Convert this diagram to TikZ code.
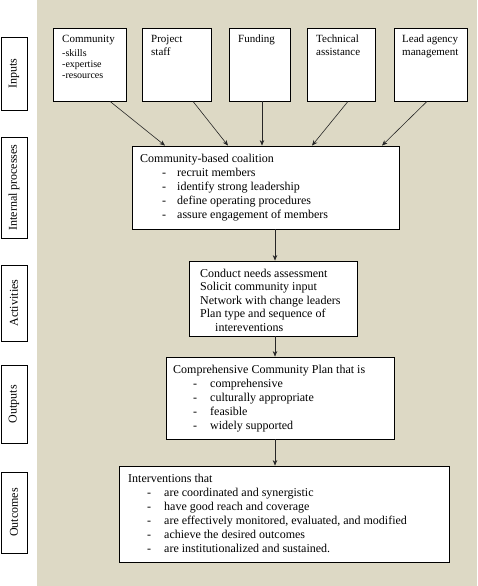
\documentclass[tikz,border=0pt]{standalone}
\usepackage{fontspec}
\setmainfont{Liberation Serif}
\usetikzlibrary{arrows.meta,calc}
\definecolor{bg}{RGB}{221,217,197}
\newcommand\dl[2]{\makebox[#2pt][l]{\hspace*{#1pt}-}}
\begin{document}
\begin{tikzpicture}[x=1pt,y=-1pt,
  box/.style={draw=black, fill=white, line width=0.8pt, inner sep=0pt},
  lab/.style={draw=black, fill=white, line width=0.8pt, rotate=90, inner sep=0pt, minimum height=26pt, font=\fontsize{12}{14}\selectfont},
  txt/.style={anchor=north west, inner sep=0pt, align=left, font=\fontsize{12}{14}\selectfont},
  itxt/.style={anchor=north west, inner sep=0pt, align=left, font=\fontsize{11}{13}\selectfont},
  arr/.style={-{Stealth[length=5.5pt,width=4.5pt]}, line width=0.6pt, draw=black!85}
]
\useasboundingbox (0,0) rectangle (477,586);
\fill[bg] (37,0) rectangle (477,586);

% side labels
\node[lab, minimum width=73pt] (lin) at (14,73.5) {Inputs};
\node[lab, minimum width=101pt] (lip) at (14,187.5) {Internal processes};
\node[lab, minimum width=76pt] (lac) at (14,303) {Activities};
\node[lab, minimum width=78pt] (lou) at (14,404) {Outputs};
\node[lab, minimum width=81pt] (loc) at (14,512.5) {Outcomes};

% input boxes
\node[box, minimum width=73pt, minimum height=73pt] (cm) at (89.5,64.5) {};
\node[box, minimum width=69pt, minimum height=73pt] (ps) at (176.5,64.5) {};
\node[box, minimum width=61pt, minimum height=73pt] (fu) at (259.5,64.5) {};
\node[box, minimum width=68pt, minimum height=73pt] (ta) at (341,64.5) {};
\node[box, minimum width=73pt, minimum height=73pt] (la) at (430.5,64.5) {};

\node[itxt] (cmt) at (62,35) {Community\\[1pt]{\fontsize{10}{11}\selectfont -skills}\\[-2pt]{\fontsize{10}{11}\selectfont -expertise}\\[-2pt]{\fontsize{10}{11}\selectfont -resources}};
\node[itxt] (pst) at (151,35) {Project\\staff};
\node[itxt] (fut) at (238,35) {Funding};
\node[itxt] (tat) at (316,35) {Technical\\assistance};
\node[itxt] (lat) at (402,35) {Lead agency\\management};

% main boxes
\node[box, minimum width=267pt, minimum height=83pt] (co) at (265.5,187.5) {};
\node[box, minimum width=168pt, minimum height=75pt] (ac) at (273,298.5) {};
\node[box, minimum width=228pt, minimum height=82pt] (op) at (280,398) {};
\node[box, minimum width=330pt, minimum height=96pt] (oc) at (284,514) {};

\node[txt] (cot) at (140,154) {Community-based coalition\\
\dl{22}{37}recruit members\\
\dl{22}{37}identify strong leadership\\
\dl{22}{37}define operating procedures\\
\dl{22}{37}assure engagement of members};

\node[txt, font=\fontsize{12}{13.5}\selectfont] (act) at (200,268.5) {Conduct needs assessment\\
Solicit community input\\
Network with change leaders\\
Plan type and sequence of\\
\hspace*{15pt}intereventions};

\node[txt] (opt) at (173,364.5) {Comprehensive Community Plan that is\\
\dl{20}{37}comprehensive\\
\dl{20}{37}culturally appropriate\\
\dl{20}{37}feasible\\
\dl{20}{37}widely supported};

\node[txt] (oct) at (128,473.5) {Interventions that\\
\dl{19}{36}are coordinated and synergistic\\
\dl{19}{36}have good reach and coverage\\
\dl{19}{36}are effectively monitored, evaluated, and modified\\
\dl{19}{36}achieve the desired outcomes\\
\dl{19}{36}are institutionalized and sustained.};

% connectors
\draw[arr] ([xshift=20.5pt]cm.south) -- ([xshift=-100.5pt]co.north);
\draw[arr] ([xshift=16.5pt]ps.south) -- ([xshift=-37.5pt]co.north);
\draw[arr] ([xshift=2.5pt]fu.south) -- ([xshift=-3.5pt]co.north);
\draw[arr] ([xshift=7pt]ta.south) -- ([xshift=46.5pt]co.north);
\draw[arr] ([xshift=-3.5pt]la.south) -- ([xshift=116.5pt]co.north);
\draw[arr] ([xshift=9.5pt]co.south) -- ([xshift=2pt]ac.north);
\draw[arr] ([xshift=2pt]ac.south) -- ([xshift=-5pt]op.north);
\draw[arr] ([xshift=-5pt]op.south) -- ([xshift=-9pt]oc.north);
\end{tikzpicture}
\end{document}
